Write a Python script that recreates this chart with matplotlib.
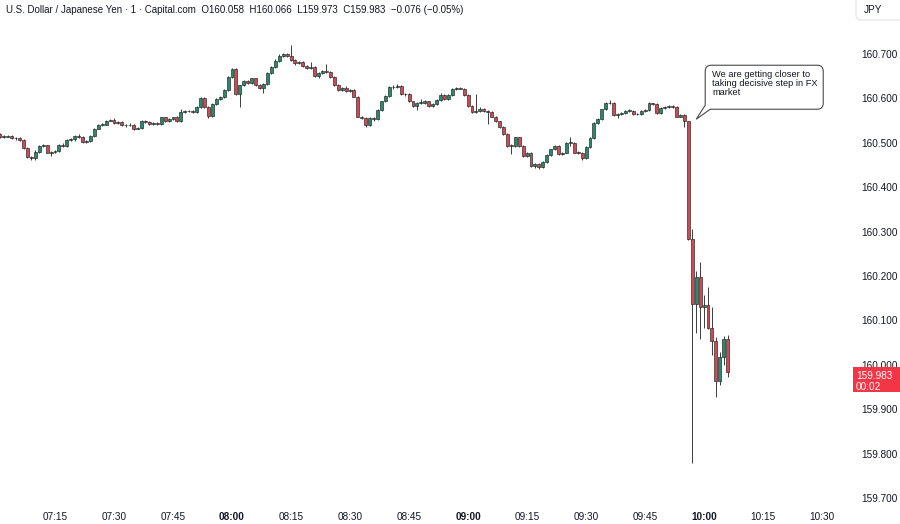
import numpy as np
import matplotlib.pyplot as plt
from matplotlib.patches import FancyBboxPatch, Rectangle, PathPatch
from matplotlib.path import Path
from matplotlib.transforms import IdentityTransform

plt.rcParams['font.family'] = ['Liberation Sans', 'DejaVu Sans']

# 1-minute candles, minutes after 07:00 (07:01 ... 10:06)
minutes = np.arange(1, 187)
first_open = 160.520
close = [
    160.513, 160.514, 160.515, 160.510, 160.511, 160.506, 160.489, 160.468, 160.466, 160.480,
    160.493, 160.494, 160.478, 160.479, 160.481, 160.496, 160.492, 160.507, 160.508, 160.515,
    160.514, 160.502, 160.504, 160.515, 160.532, 160.540, 160.541, 160.550, 160.551, 160.545,
    160.547, 160.540, 160.539, 160.541, 160.531, 160.533, 160.549, 160.547, 160.543, 160.545,
    160.542, 160.557, 160.549, 160.553, 160.557, 160.549, 160.570, 160.572, 160.571, 160.570,
    160.581, 160.600, 160.581, 160.560, 160.587, 160.599, 160.602, 160.619, 160.649, 160.666,
    160.609, 160.629, 160.639, 160.634, 160.645, 160.630, 160.623, 160.633, 160.658, 160.671,
    160.685, 160.696, 160.700, 160.696, 160.686, 160.679, 160.683, 160.673, 160.668, 160.670,
    160.650, 160.658, 160.662, 160.660, 160.648, 160.630, 160.619, 160.623, 160.617, 160.618,
    160.604, 160.559, 160.555, 160.540, 160.555, 160.553, 160.574, 160.593, 160.605, 160.625,
    160.626, 160.628, 160.609, 160.610, 160.593, 160.583, 160.590, 160.590, 160.593, 160.583,
    160.587, 160.596, 160.608, 160.599, 160.608, 160.622, 160.623, 160.622, 160.608, 160.583,
    160.570, 160.572, 160.577, 160.572, 160.570, 160.559, 160.548, 160.536, 160.520, 160.493,
    160.493, 160.512, 160.493, 160.470, 160.478, 160.448, 160.452, 160.446, 160.457, 160.473,
    160.485, 160.493, 160.475, 160.478, 160.500, 160.500, 160.478, 160.477, 160.465, 160.490,
    160.511, 160.545, 160.553, 160.575, 160.589, 160.590, 160.563, 160.565, 160.566, 160.572,
    160.572, 160.564, 160.565, 160.572, 160.573, 160.589, 160.587, 160.566, 160.578, 160.580,
    160.583, 160.580, 160.559, 160.563, 160.548, 160.283, 160.136, 160.197, 160.131, 160.135,
    160.082, 160.054, 159.964, 160.018, 160.058, 159.983,
]
high = [
    160.522, 160.517, 160.518, 160.518, 160.514, 160.513, 160.508, 160.491, 160.470, 160.483,
    160.496, 160.498, 160.496, 160.482, 160.484, 160.498, 160.499, 160.509, 160.511, 160.517,
    160.519, 160.516, 160.506, 160.517, 160.534, 160.542, 160.544, 160.552, 160.554, 160.556,
    160.549, 160.549, 160.542, 160.545, 160.543, 160.536, 160.551, 160.551, 160.549, 160.547,
    160.547, 160.559, 160.559, 160.555, 160.559, 160.560, 160.575, 160.574, 160.574, 160.573,
    160.583, 160.602, 160.602, 160.583, 160.589, 160.601, 160.606, 160.621, 160.651, 160.669,
    160.668, 160.631, 160.642, 160.641, 160.647, 160.647, 160.632, 160.635, 160.660, 160.673,
    160.688, 160.699, 160.703, 160.703, 160.720, 160.688, 160.685, 160.685, 160.675, 160.683,
    160.672, 160.660, 160.664, 160.677, 160.662, 160.650, 160.632, 160.626, 160.628, 160.621,
    160.620, 160.606, 160.561, 160.557, 160.557, 160.558, 160.576, 160.595, 160.607, 160.627,
    160.630, 160.632, 160.630, 160.612, 160.612, 160.595, 160.592, 160.598, 160.596, 160.595,
    160.589, 160.598, 160.611, 160.610, 160.610, 160.624, 160.625, 160.625, 160.624, 160.610,
    160.585, 160.610, 160.580, 160.579, 160.574, 160.572, 160.561, 160.550, 160.538, 160.522,
    160.497, 160.514, 160.514, 160.495, 160.480, 160.480, 160.455, 160.454, 160.459, 160.475,
    160.487, 160.495, 160.495, 160.480, 160.502, 160.512, 160.502, 160.481, 160.479, 160.492,
    160.513, 160.547, 160.556, 160.577, 160.592, 160.596, 160.592, 160.568, 160.569, 160.574,
    160.575, 160.574, 160.568, 160.574, 160.576, 160.592, 160.590, 160.589, 160.580, 160.582,
    160.585, 160.584, 160.582, 160.565, 160.565, 160.550, 160.305, 160.210, 160.232, 160.157,
    160.176, 160.131, 160.063, 160.029, 160.065, 160.066,
]
low = [
    160.511, 160.511, 160.512, 160.508, 160.507, 160.504, 160.487, 160.465, 160.462, 160.462,
    160.478, 160.490, 160.476, 160.470, 160.477, 160.479, 160.490, 160.490, 160.505, 160.505,
    160.511, 160.500, 160.500, 160.502, 160.513, 160.530, 160.538, 160.539, 160.548, 160.543,
    160.542, 160.538, 160.535, 160.537, 160.529, 160.530, 160.531, 160.545, 160.541, 160.541,
    160.539, 160.540, 160.546, 160.547, 160.551, 160.547, 160.547, 160.568, 160.569, 160.567,
    160.568, 160.579, 160.579, 160.556, 160.558, 160.585, 160.597, 160.600, 160.617, 160.647,
    160.607, 160.581, 160.627, 160.632, 160.632, 160.628, 160.620, 160.612, 160.631, 160.656,
    160.669, 160.683, 160.694, 160.694, 160.684, 160.676, 160.677, 160.671, 160.666, 160.666,
    160.648, 160.646, 160.656, 160.658, 160.646, 160.628, 160.617, 160.617, 160.615, 160.614,
    160.602, 160.557, 160.553, 160.536, 160.537, 160.550, 160.551, 160.572, 160.591, 160.603,
    160.622, 160.624, 160.607, 160.606, 160.591, 160.580, 160.574, 160.587, 160.588, 160.581,
    160.581, 160.585, 160.594, 160.597, 160.597, 160.606, 160.618, 160.620, 160.606, 160.581,
    160.568, 160.568, 160.570, 160.570, 160.542, 160.557, 160.546, 160.534, 160.518, 160.491,
    160.474, 160.491, 160.491, 160.468, 160.468, 160.446, 160.443, 160.442, 160.444, 160.455,
    160.471, 160.483, 160.473, 160.473, 160.476, 160.492, 160.476, 160.474, 160.462, 160.463,
    160.488, 160.509, 160.543, 160.551, 160.573, 160.587, 160.561, 160.556, 160.562, 160.564,
    160.569, 160.562, 160.562, 160.563, 160.570, 160.571, 160.584, 160.564, 160.564, 160.576,
    160.578, 160.578, 160.557, 160.557, 160.536, 160.281, 159.778, 160.071, 160.057, 160.083,
    160.080, 160.022, 159.928, 159.955, 159.999, 159.973,
]

price_ticks = [159.7, 159.8, 159.9, 160.0, 160.1, 160.2, 160.3, 160.4, 160.5, 160.6, 160.7]
time_ticks = list(range(15, 211, 15))
time_labels = ['07:15', '07:30', '07:45', '08:00', '08:15', '08:30', '08:45',
               '09:00', '09:15', '09:30', '09:45', '10:00', '10:15', '10:30']
last_price = 159.983
countdown = '00:02'
title = 'U.S. Dollar / Japanese Yen \u00b7 1 \u00b7 Capital.com'
ohlc = 'O160.058  H160.066  L159.973  C159.983  \u22120.076 (\u22120.05%)'
note = 'We are getting closer to\ntaking decisive step in FX\nmarket'
note_tip = (178.0, 160.553)

W, H = 900, 524
txt = '#131722'
green, red = '#268a6c', '#cf4a55'

fig = plt.figure(figsize=(W / 100, H / 100), dpi=100)
fig.patch.set_facecolor('white')
ax = fig.add_axes([0, 19 / H, 852 / W, 505 / H])

# Candles
opn = np.array([first_open] + close[:-1])
cls = np.array(close)
cols = [green if c >= o else red for o, c in zip(opn, cls)]
ax.vlines(minutes, low, high, color='#3c3c3c', lw=0.7, zorder=1)
body_lo = np.minimum(opn, cls)
body_h = np.maximum(np.abs(cls - opn), 0.0012)
ax.bar(minutes, body_h, bottom=body_lo, width=0.75, color=cols,
       edgecolor='#222222', linewidth=0.45, zorder=2)

ax.set_xlim(1.02, 217.6)
ax.set_ylim(159.684, 160.8216)
for s in ax.spines.values():
    s.set_visible(False)

# Axes
ax.yaxis.tick_right()
ax.set_yticks(price_ticks, [f'{p:.3f}' for p in price_ticks])
ax.tick_params(axis='y', length=0, pad=7.0, labelsize=7.2, colors=txt)
ax.set_xticks(time_ticks, time_labels)
ax.tick_params(axis='x', length=0, pad=5, labelsize=7.2, colors=txt)
for lab in ax.get_xticklabels():
    if lab.get_text().endswith(':00'):
        lab.set_fontweight('bold')

# Header
fig.text(6 / W, 1 - 10 / H, title + '  ' + ohlc, fontsize=7.0, color=txt,
         va='center', ha='left')

# Currency box top right
fig.add_artist(FancyBboxPatch((856 / W, 1 - 20 / H), 50 / W, 26 / H,
                              boxstyle='round,pad=0,rounding_size=0.008',
                              transform=fig.transFigure, facecolor='white',
                              edgecolor='#e0e3eb', lw=0.8))
fig.text(864 / W, 1 - 10 / H, 'JPY', fontsize=7.2, color=txt, va='center')

# Last price tag
fig.canvas.draw()
py = ax.transData.transform((0, last_price))[1]
fig.add_artist(Rectangle((853, py - 20), 47, 25, transform=IdentityTransform(),
                         facecolor='#f23645', edgecolor='none'))
fig.text(856 / W, (py - 3.5) / H, f'{last_price:.3f}', fontsize=7.2,
         color='white', va='center')
fig.text(856 / W, (py - 14.5) / H, countdown, fontsize=7.2, color='white',
         va='center')

# Speech bubble note
tx, ty = ax.transData.transform(note_tip)
left, right, bottom, top, r = tx + 9, tx + 127, ty + 10, ty + 54, 6
verts = [(left + 5, bottom), (right - r, bottom), (right, bottom), (right, bottom + r),
         (right, top - r), (right, top), (right - r, top), (left + r, top),
         (left, top), (left, top - r), (left, bottom + 4), (tx, ty), (left + 5, bottom)]
codes = [Path.MOVETO, Path.LINETO, Path.CURVE3, Path.CURVE3, Path.LINETO,
         Path.CURVE3, Path.CURVE3, Path.LINETO, Path.CURVE3, Path.CURVE3,
         Path.LINETO, Path.LINETO, Path.CLOSEPOLY]
fig.add_artist(PathPatch(Path(verts, codes), transform=IdentityTransform(),
                         facecolor='white', edgecolor='#4a4a4a', lw=0.8))
fig.text((left + 7) / W, (top - 5) / H, note, fontsize=6.7, color=txt,
         va='top', ha='left', linespacing=1.0)

fig.savefig('out.png', dpi=100)
